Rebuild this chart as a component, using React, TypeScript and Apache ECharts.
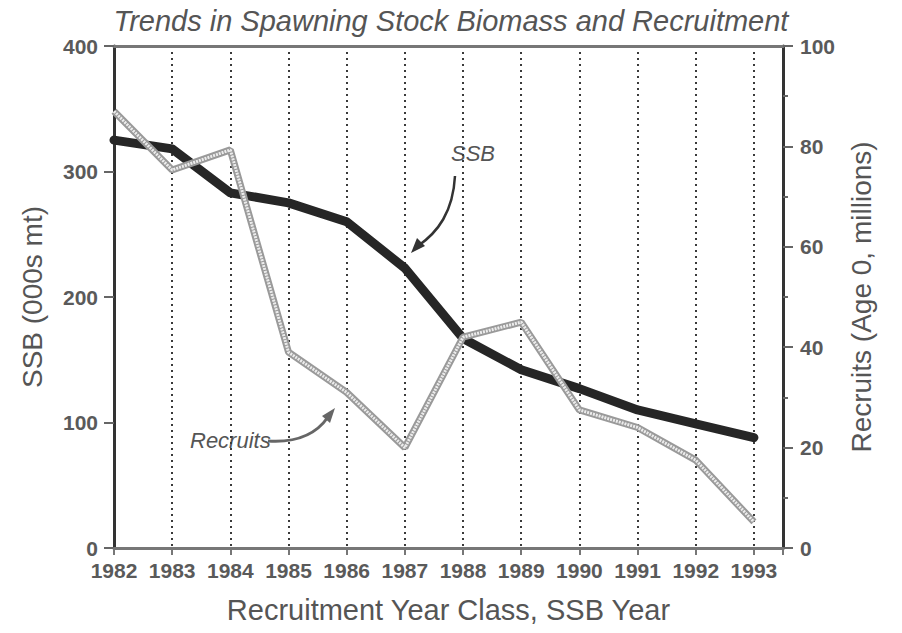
import React, { useEffect, useRef } from "react";
import * as echarts from "echarts";

const years = [1982, 1983, 1984, 1985, 1986, 1987, 1988, 1989, 1990, 1991, 1992, 1993];
const ssb = [325, 318, 283, 275, 260, 223, 167, 142, 127, 110, 99, 88];
const recruits = [87, 75.3, 79.3, 39, 31, 20, 42, 45, 27.5, 24, 17.5, 5.2];
const leftTicks = { min: 0, max: 400, interval: 100 };
const rightTicks = { min: 0, max: 100, interval: 20 };

const FONT = "'Liberation Sans', Arial, Helvetica, sans-serif";
const GREY = "#555";

export default function App() {
  const ref = useRef<HTMLDivElement>(null);
  useEffect(() => {
    if (!ref.current) return;
    const chart = echarts.init(ref.current, undefined, { renderer: "svg" });
    const ssbData = years.map((y, i) => [y, ssb[i]]);
    const recData = years.map((y, i) => [y, recruits[i]]);
    chart.setOption({
      animation: false,
      backgroundColor: "#fff",
      textStyle: { fontFamily: FONT },
      title: {
        text: "Trends in Spawning Stock Biomass and Recruitment",
        left: 446,
        textAlign: "center",
        top: 1,
        textStyle: { fontFamily: FONT, fontStyle: "italic", fontWeight: "normal", fontSize: 29, color: GREY },
      },
      grid: { left: 114, right: 119, top: 46, bottom: 85, containLabel: false },
      visualMap: {
        show: false,
        type: "piecewise",
        seriesIndex: 0,
        dimension: 0,
        pieces: [
          { lt: 1989.85, color: "#262626" },
          { gte: 1989.85, lte: 1991.1, color: "#777" },
          { gt: 1991.1, color: "#262626" },
        ],
      },
      xAxis: [
        {
          type: "value",
          min: years[0],
          max: 1993.5,
          interval: 1,
          position: "bottom",
          axisLine: { show: true, onZero: false, lineStyle: { color: "#777", width: 3 } },
          axisTick: { show: true, length: 7, lineStyle: { color: "#777", width: 2 } },
          axisLabel: {
            fontSize: 21,
            fontWeight: "bold",
            color: "#5a5a5a",
            margin: 12,
            formatter: (v: number) => (Number.isInteger(v) ? String(v) : ""),
          },
          splitLine: { show: true, lineStyle: { color: "#3a3a3a", width: 2, type: [2, 4] } },
          name: "Recruitment Year Class, SSB Year",
          nameLocation: "middle",
          nameGap: 47,
          nameTextStyle: { fontSize: 29, color: GREY, fontFamily: FONT },
        },
        {
          type: "value",
          min: years[0],
          max: 1993.5,
          position: "top",
          axisLine: { show: true, onZero: false, lineStyle: { color: "#777", width: 3 } },
          axisTick: { show: false },
          axisLabel: { show: false },
          splitLine: { show: false },
        },
      ],
      yAxis: [
        {
          type: "value",
          ...leftTicks,
          position: "left",
          axisLine: { show: true, onZero: false, lineStyle: { color: "#333", width: 3 } },
          axisTick: { show: true, length: 10, lineStyle: { color: "#666", width: 2 } },
          axisLabel: { fontSize: 21, fontWeight: "bold", color: "#5a5a5a", margin: 16 },
          splitLine: { show: false },
          name: "SSB (000s mt)",
          nameLocation: "middle",
          nameGap: 68,
          nameRotate: 90,
          nameTextStyle: { fontSize: 28, color: GREY, fontFamily: FONT },
        },
        {
          type: "value",
          ...rightTicks,
          position: "right",
          axisLine: { show: true, onZero: false, lineStyle: { color: "#333", width: 3 } },
          axisTick: { show: true, length: 10, lineStyle: { color: "#666", width: 2 } },
          minorTick: { show: true, splitNumber: 2, length: 5, lineStyle: { color: "#666", width: 2 } },
          axisLabel: { fontSize: 21, fontWeight: "bold", color: "#5a5a5a", margin: 17 },
          splitLine: { show: false },
          name: "Recruits (Age 0, millions)",
          nameLocation: "middle",
          nameGap: 64,
          nameRotate: 90,
          nameTextStyle: { fontSize: 28, color: GREY, fontFamily: FONT },
        },
      ],
      series: [
        {
          name: "SSB",
          type: "line",
          xAxisIndex: 0,
          yAxisIndex: 0,
          data: ssbData,
          showSymbol: false,
          symbol: "none",
          lineStyle: { width: 9, color: "#262626", join: "round", cap: "round" },
          z: 3,
        },
        {
          name: "Recruits",
          type: "line",
          xAxisIndex: 0,
          yAxisIndex: 1,
          data: recData,
          showSymbol: false,
          symbol: "none",
          lineStyle: { width: 7, color: "#9a9a9a" },
          z: 4,
        },
        {
          name: "Recruits inner",
          type: "line",
          xAxisIndex: 0,
          yAxisIndex: 1,
          data: recData,
          showSymbol: false,
          symbol: "none",
          lineStyle: { width: 3, color: "#ececec", type: [2, 1] },
          z: 5,
        },
      ],
      graphic: [
        {
          type: "text",
          left: 451,
          top: 142,
          style: { text: "SSB", font: `italic 22px ${FONT}`, fill: GREY },
        },
        {
          type: "bezierCurve",
          shape: { x1: 455, y1: 176, cpx1: 453, cpy1: 212, cpx2: 438, cpy2: 232, x2: 418, y2: 246 },
          style: { stroke: "#333", lineWidth: 2.5, fill: "none" },
        },
        {
          type: "polygon",
          shape: { points: [[411, 253], [425, 246], [417, 238]] },
          style: { fill: "#333" },
        },
        {
          type: "text",
          left: 190,
          top: 429,
          style: { text: "Recruits", font: `italic 22px ${FONT}`, fill: GREY },
        },
        {
          type: "bezierCurve",
          shape: { x1: 268, y1: 441, cpx1: 298, cpy1: 443, cpx2: 317, cpy2: 433, x2: 328, y2: 417 },
          style: { stroke: "#666", lineWidth: 3, fill: "none" },
        },
        {
          type: "polygon",
          shape: { points: [[335, 408], [330, 423], [322, 416]] },
          style: { fill: "#666" },
        },
      ],
    });
    return () => chart.dispose();
  }, []);
  return <div ref={ref} style={{ width: 902, height: 633, margin: -8 }} />;
}
